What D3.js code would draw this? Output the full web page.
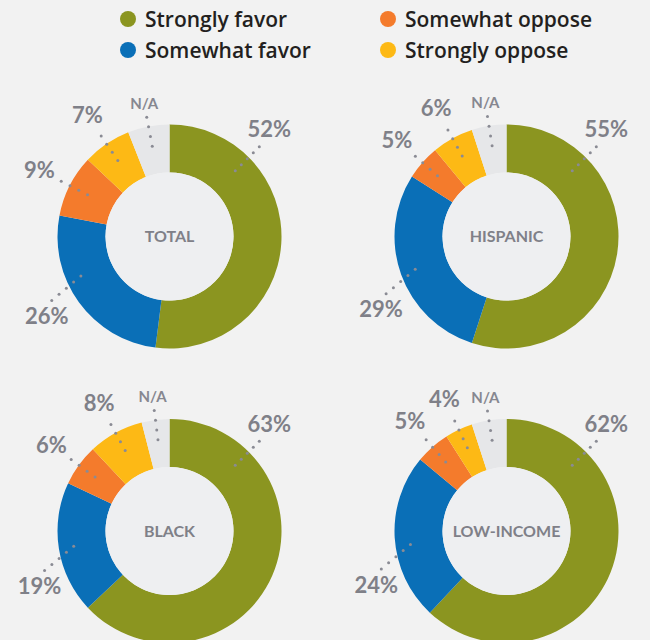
<!DOCTYPE html>
<meta charset="utf-8">
<head>
  <title>Favor / oppose donuts</title>
</head>
<style>
  body { margin: 0; background: #f2f2f2; }
  text { font-family: Lato, "Open Sans", sans-serif; }
  .legend text { font-family: "Open Sans", sans-serif; font-size: 21px; font-weight: 600; fill: #231f20; }
  .pct { font-size: 22px; font-weight: bold; fill: #7f8088; text-anchor: middle; }
  .na { font-size: 15px; font-weight: bold; fill: #868790; text-anchor: middle; }
  .name { font-size: 16px; font-weight: bold; fill: #7f8088; text-anchor: middle; }
</style>
<body>
<script src="https://d3js.org/d3.v7.min.js"></script>
<div id="chart"></div>
<script>

var categories = ["Strongly favor", "Somewhat favor", "Somewhat oppose", "Strongly oppose", "N/A"];
var groups = ["TOTAL", "HISPANIC", "BLACK", "LOW-INCOME"];

var stronglyFavor  = [52, 55, 63, 62];
var somewhatFavor  = [26, 29, 19, 24];
var somewhatOppose = [9, 5, 6, 5];
var stronglyOppose = [7, 6, 8, 4];
var noAnswer       = [6, 5, 4, 5];

var seriesValues = [stronglyFavor, somewhatFavor, somewhatOppose, stronglyOppose, noAnswer];

var color = d3.scaleOrdinal()
  .domain(categories)
  .range(["#8b9520", "#0a6fb7", "#f47b2c", "#fdb915", "#e6e7e9"]);

var width = 650, height = 640;

var svg = d3.select("#chart")
  .append("svg")
  .attr("width", width)
  .attr("height", height);

svg.append("rect")
  .attr("width", width)
  .attr("height", height)
  .attr("fill", "#f2f2f2");

// legend, two columns: favor on the left, oppose on the right
var legendCol = d3.scalePoint().domain([0, 1]).range([128, 388]);
var legendRow = d3.scalePoint().domain([0, 1]).range([19, 50]);

var legend = svg.append("g").attr("class", "legend")
  .selectAll("g")
  .data(categories.slice(0, 4))
  .enter()
  .append("g")
  .attr("transform", function(d, i) {
    return "translate(" + legendCol(Math.floor(i / 2)) + "," + legendRow(i % 2) + ")";
  });

legend.append("circle").attr("r", 8).attr("fill", function(d) { return color(d); });
legend.append("text").attr("x", 17).attr("dy", "0.36em").text(function(d) { return d; });

// donut grid
var colX = d3.scalePoint().domain([0, 1]).range([169.5, 506.5]);
var rowY = d3.scalePoint().domain([0, 1]).range([236.5, 531]);

var rInner = 64, rOuter = 112;

var pie = d3.pie()
  .sort(null)
  .value(function(d) { return d.value; });

var arc = d3.arc().innerRadius(rInner).outerRadius(rOuter);

var deg = Math.PI / 180;

function polar(angle, r) {
  return [Math.sin(angle) * r, -Math.cos(angle) * r];
}

// dotted leader: start point, compass direction, length, number of dots
function leader(g, start, dir, len, n) {
  var step = polar(dir, len / (n - 1));
  for (var k = 0; k < n; k++) {
    g.append("circle")
      .attr("cx", start[0] + step[0] * k)
      .attr("cy", start[1] + step[1] * k)
      .attr("r", 1.5)
      .attr("fill", "#8a8b94");
  }
  return [start[0] + step[0] * (n - 1), start[1] + step[1] * (n - 1)];
}

groups.forEach(function(name, gi) {
  var data = categories.map(function(c, ci) {
    return { cat: c, value: seriesValues[ci][gi] };
  });
  var arcs = pie(data);

  var g = svg.append("g")
    .attr("transform", "translate(" + colX(gi % 2) + "," + rowY(Math.floor(gi / 2)) + ")");

  g.selectAll("path")
    .data(arcs)
    .enter()
    .append("path")
    .attr("d", arc)
    .attr("fill", function(d) { return color(d.data.cat); });

  g.append("circle").attr("r", rInner).attr("fill", "#eeeff1");

  g.append("text")
    .attr("class", "name")
    .attr("dy", "0.35em")
    .text(name);

  arcs.forEach(function(a, i) {
    var mid = (a.startAngle + a.endAngle) / 2;
    var end, lx, ly;
    if (i === 0) {
      end = leader(g, polar(45 * deg, 93), 45 * deg, 34, 5);
      lx = end[0] + 10; ly = end[1] - 17;
    } else if (i === 1) {
      var ang = Math.min(Math.max(mid, 246 * deg), 262 * deg);
      end = leader(g, polar(ang, 97), 230 * deg, 38, 5);
      lx = end[0] - 5; ly = end[1] + 16;
    } else {
      leader(g, polar(mid, 92), mid, 29.5, 4);
      var lp = polar(mid, i === 4 ? 135 : 146);
      lx = lp[0]; ly = lp[1];
    }

    g.append("text")
      .attr("class", i === 4 ? "na" : "pct")
      .attr("x", lx)
      .attr("y", ly)
      .attr("dy", "0.35em")
      .text(i === 4 ? "N/A" : a.data.value + "%");
  });
});

</script>
</body>
</html>
